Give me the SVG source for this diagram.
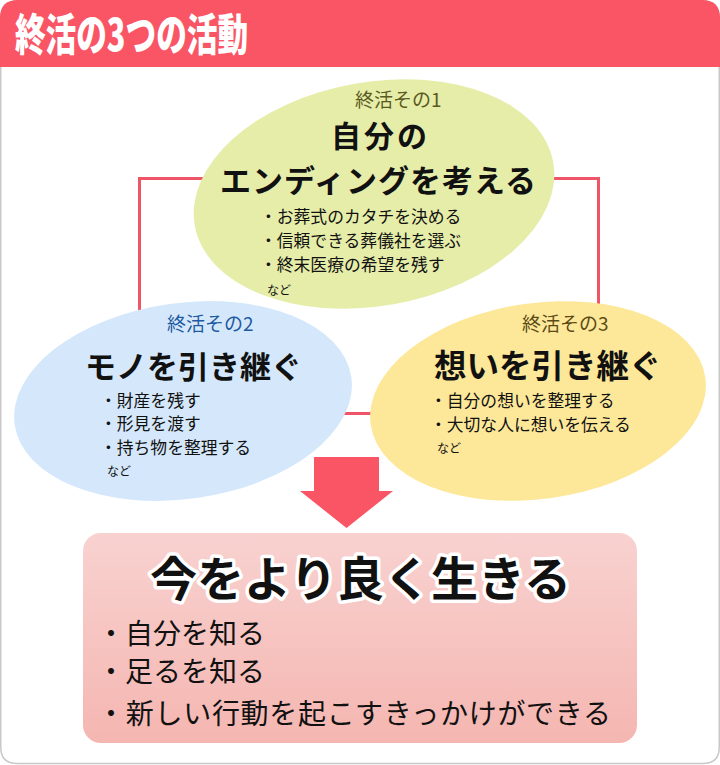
<svg xmlns="http://www.w3.org/2000/svg" width="720" height="765" viewBox="0 0 720 765">
<defs>
<linearGradient id="boxg" x1="0" y1="0" x2="0" y2="1">
<stop offset="0" stop-color="#F8D2D0"/>
<stop offset="1" stop-color="#F5B6B1"/>
</linearGradient>
<style>
text{font-family:"Noto Sans CJK JP","Noto Sans CJK SC",sans-serif;}
.lbl{font-size:19px;}
.ttl{font-weight:bold;fill:#111;}
.itm{font-size:16.8px;fill:#111;}
.etc{font-size:12px;fill:#111;}
.big{font-size:28px;fill:#111;}
.con{fill:none;stroke:#EE5566;stroke-width:3;}
</style>
</defs>
<path d="M0.75 18 Q0.75 0.75 18 0.75 H702 Q719.25 0.75 719.25 18 V747 Q719.25 763.5 703 763.5 H17 Q0.75 763.5 0.75 747 Z" fill="#fff" stroke="#C8C8C8" stroke-width="1.5"/>
<g id="header">
<path d="M0 18 Q0 0 18 0 H702 Q720 0 720 18 V67 H0 Z" fill="#FA5565"/>
<text x="15" y="51" font-size="44" font-weight="900" fill="#fff" textLength="233" lengthAdjust="spacingAndGlyphs">終活の3つの活動</text>
</g>
<g id="connectors">
<path class="con" d="M220 178.5 H139.5 V330"/>
<path class="con" d="M520 178.5 H598.5 V330"/>
<path class="con" d="M330 413.5 H385"/>
</g>
<g id="node1">
<ellipse cx="374" cy="194" rx="182" ry="112" transform="rotate(-10 374 194)" fill="#E6EDA9"/>
<text class="lbl" x="355" y="107" fill="#5A5A1E">終活その1</text>
<text class="ttl" x="331" y="147" font-size="30" textLength="96">自分の</text>
<text class="ttl" x="220" y="192" font-size="31" textLength="316">エンディングを考える</text>
<text class="itm" x="260" y="223">・お葬式のカタチを決める</text>
<text class="itm" x="260" y="247">・信頼できる葬儀社を選ぶ</text>
<text class="itm" x="260" y="271">・終末医療の希望を残す</text>
<text class="etc" x="267" y="295">など</text>
</g>
<g id="node2">
<ellipse cx="183" cy="401" rx="170" ry="98" transform="rotate(-8 183 401)" fill="#D5E8FB"/>
<text class="lbl" x="167" y="331" fill="#1E5AA0">終活その2</text>
<text class="ttl" x="85" y="378" font-size="31">モノを引き継ぐ</text>
<text class="itm" x="100" y="407">・財産を残す</text>
<text class="itm" x="100" y="430">・形見を渡す</text>
<text class="itm" x="100" y="454">・持ち物を整理する</text>
<text class="etc" x="107" y="476">など</text>
</g>
<g id="node3">
<ellipse cx="538" cy="401" rx="169" ry="98" transform="rotate(-8 538 401)" fill="#FDE89A"/>
<text class="lbl" x="522" y="331" fill="#5C4A14">終活その3</text>
<text class="ttl" x="434" y="378" font-size="32.5">想いを引き継ぐ</text>
<text class="itm" x="430" y="407">・自分の想いを整理する</text>
<text class="itm" x="430" y="431">・大切な人に想いを伝える</text>
<text class="etc" x="437" y="453">など</text>
</g>
<g id="arrow">
<polygon points="314,457 379,457 379,491 393,491 346.5,528 300,491 314,491" fill="#FA5565"/>
</g>
<g id="result">
<rect x="83" y="533" width="554" height="210" rx="18" fill="url(#boxg)"/>
<text class="ttl" x="150" y="596" font-size="47" stroke="#fff" stroke-width="7" stroke-linejoin="round" paint-order="stroke">今をより良く生きる</text>
<text class="big" x="97" y="644">・自分を知る</text>
<text class="big" x="97" y="682">・足るを知る</text>
<text class="big" x="97" y="724" textLength="514">・新しい行動を起こすきっかけができる</text>
</g>
</svg>
